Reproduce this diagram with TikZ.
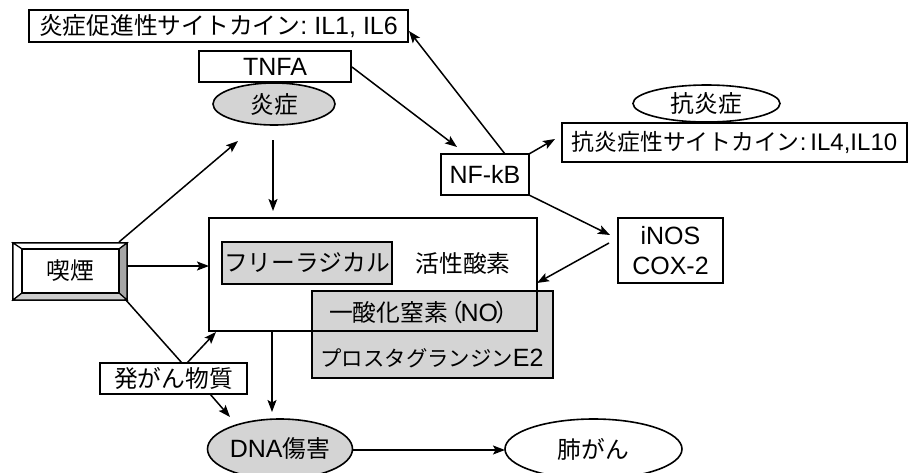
\documentclass[tikz,border=0pt]{standalone}
\usepackage{fontspec}
\setmainfont{Liberation Sans}
\newfontfamily\jp[Scale=0.95]{Noto Sans CJK JP}
\usetikzlibrary{shapes.geometric,arrows.meta}
\definecolor{boxgray}{RGB}{212,212,212}
\tikzset{
  every node/.style={font=\fontsize{25}{30}\selectfont, inner sep=0pt},
  rbox/.style={draw, line width=1.6pt, rectangle, fill=white},
  gbox/.style={draw, line width=1.6pt, rectangle, fill=boxgray},
  ell/.style={draw, line width=1.6pt, ellipse, fill=white},
  gell/.style={draw, line width=1.6pt, ellipse, fill=boxgray},
  conn/.style={line width=1.5pt},
  arr/.style={conn, -{Stealth[length=12pt,width=9pt,inset=2.5pt]}},
}
\begin{document}
\begin{tikzpicture}[x=1pt,y=-1pt]
\useasboundingbox (0,0) rectangle (908,472);
% top nodes
\node[rbox, minimum width=379pt, minimum height=32pt] (top) at (218.5,26) {{\jp 炎症促進性サイトカイン}:\;IL1, IL6};
\node[rbox, minimum width=152pt, minimum height=31pt] (tnfa) at (275,66.5) {TNFA};
\node[gell, minimum width=122pt, minimum height=42pt] (inflam) at (274,104) {\jp 炎症};
\node[rbox, minimum width=88pt, minimum height=41pt] (nfkb) at (485,174.5) {NF-kB};
\node[ell, minimum width=147pt, minimum height=37pt] (anti) at (706.5,103.5) {\jp 抗炎症};
\node[rbox, minimum width=345pt, minimum height=39pt, font=\fontsize{24}{29}\selectfont] (antibox) at (734.5,142.5) {{\jp 抗炎症性サイトカイン}:\,IL4,IL10};
\node[rbox, minimum width=105pt, minimum height=65pt, align=center, font=\fontsize{25}{30}\selectfont] (inos) at (670.5,250.5) {iNOS\\COX-2};
% smoking bevel box
\node[draw, line width=1.2pt, minimum width=114pt, minimum height=57pt] (smoke) at (70,271.5) {};
\filldraw[fill=white, line width=1.2pt] (13,243) -- (127,243) -- (119,249) -- (22,249) -- cycle;
\filldraw[fill=white, line width=1.2pt] (13,243) -- (22,249) -- (22,293) -- (13,300) -- cycle;
\filldraw[fill=gray!70, line width=1.2pt] (127,243) -- (127,300) -- (119,293) -- (119,249) -- cycle;
\filldraw[fill=gray!40, line width=1.2pt] (13,300) -- (127,300) -- (119,293) -- (22,293) -- cycle;
\node[draw, line width=1.2pt, fill=white, minimum width=97pt, minimum height=44pt] (smokein) at (70.5,271) {\jp 喫煙};
% central boxes
\node[gbox, minimum width=241pt, minimum height=87pt] (nobox) at (432.5,334.5) {};
\node[draw, line width=1.6pt, minimum width=328pt, minimum height=113pt] (big) at (373,274.5) {};
\node[gbox, minimum width=170pt, minimum height=42pt] (radical) at (307,263) {\jp フリーラジカル};
\node (ros) at (463,263) {\jp 活性酸素};
\node (no) at (424,312) {{\jp 一酸化窒素}{\jp\kern-8pt（\kern-3pt}NO{\jp\kern-3pt）}};
\node (pg) at (432,358) {{\jp\fontsize{22.5}{27}\selectfont プロスタグランジン}E2};
\node[rbox, minimum width=147pt, minimum height=31pt] (carc) at (173.5,378.5) {\jp 発がん物質};
\node[gell, minimum width=145pt, minimum height=60pt] (dna) at (280,449) {DNA{\jp 傷害}};
\node[ell, minimum width=177pt, minimum height=60pt] (lung) at (593.5,449) {\jp 肺がん};
% connector endpoints
\coordinate (a1s) at (352,67);   \coordinate (a1e) at (457,147);
\coordinate (a2s) at (505,154);  \coordinate (a2e) at (409,31);
\coordinate (a3s) at (529,154);  \coordinate (a3e) at (555,139);
\coordinate (a4s) at (529,195);  \coordinate (a4e) at (610,235);
\coordinate (a5s) at (609,243);  \coordinate (a5e) at (537,283);
\coordinate (a6s) at (119,242);  \coordinate (a6e) at (238,141);
\coordinate (a7s) at (127,266);  \coordinate (a7e) at (209,266);
\coordinate (a8s) at (125,299);  \coordinate (a8e) at (182,363);
\coordinate (a9s) at (187,363);  \coordinate (a9e) at (216,332);
\coordinate (a10s) at (210,394); \coordinate (a10e) at (230,417);
\coordinate (a11s) at (272,331); \coordinate (a11e) at (272,412);
\coordinate (a12s) at (273,140); \coordinate (a12e) at (273,211);
\coordinate (a13s) at (352,450); \coordinate (a13e) at (505,450);
\draw[arr] (a1s) -- (a1e);
\draw[arr] (a2s) -- (a2e);
\draw[arr] (a3s) -- (a3e);
\draw[arr] (a4s) -- (a4e);
\draw[arr] (a5s) -- (a5e);
\draw[arr] (a6s) -- (a6e);
\draw[arr] (a7s) -- (a7e);
\draw[conn] (a8s) -- (a8e);
\draw[arr] (a9s) -- (a9e);
\draw[arr] (a10s) -- (a10e);
\draw[arr] (a11s) -- (a11e);
\draw[arr] (a12s) -- (a12e);
\draw[arr] (a13s) -- (a13e);
\end{tikzpicture}
\end{document}
